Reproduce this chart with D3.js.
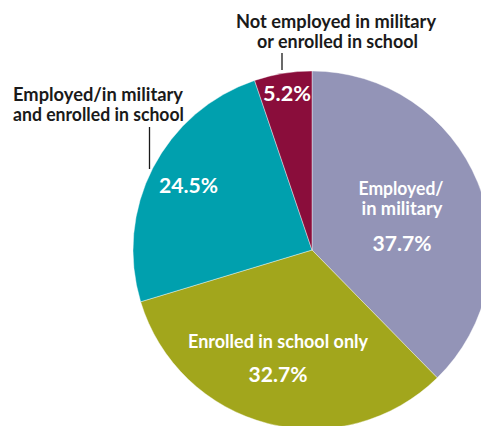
<!DOCTYPE html>
<html>
<head>
<meta charset="utf-8">
<script src="https://cdn.jsdelivr.net/npm/d3@7"></script>
<style>
  html, body { margin: 0; padding: 0; background: #ffffff; }
  svg { display: block; }
  text { font-family: Lato, "Open Sans", sans-serif; font-weight: 700; }
</style>
</head>
<body>
<svg id="chart" width="481" height="426"></svg>
<script>
// ---- data ----
const categories = [
  "Employed/in military",
  "Enrolled in school only",
  "Employed/in military and enrolled in school",
  "Not employed in military or enrolled in school"
];
const values = [37.7, 32.7, 24.5, 5.2];
const valueLabels = ["37.7%", "32.7%", "24.5%", "5.2%"];
const colors = ["#9394b7", "#a2a61c", "#00a0ae", "#8a0d3b"];

// ---- layout ----
const W = 481, H = 426;
const cx = 312, cy = 250, R = 179;

const svg = d3.select("#chart");
const g = svg.append("g").attr("transform", `translate(${cx},${cy})`);

const pie = d3.pie().sort(null).value(d => d)(values);
const arc = d3.arc().innerRadius(0).outerRadius(R);

g.selectAll("path.slice")
  .data(pie)
  .join("path")
  .attr("class", "slice")
  .attr("d", arc)
  .attr("fill", (d, i) => colors[i])
  .attr("stroke", "#ffffff")
  .attr("stroke-width", 0.4);

// helper to draw text lines with target widths
function addText(lines, fill) {
  lines.forEach(l => {
    const t = svg.append("text")
      .attr("x", l.x)
      .attr("y", l.y)
      .attr("text-anchor", "middle")
      .attr("fill", fill)
      .attr("font-size", l.size)
      .text(l.text);
    if (l.w) t.attr("textLength", l.w).attr("lengthAdjust", "spacingAndGlyphs");
  });
}

// in-slice labels (white)
addText([
  { text: "Employed/", x: 401, y: 195, size: 18, w: 85 },
  { text: "in military", x: 402, y: 215, size: 18, w: 81 },
  { text: valueLabels[0], x: 402, y: 251, size: 21, w: 59 },
  { text: "Enrolled in school only", x: 278, y: 348, size: 18, w: 180 },
  { text: valueLabels[1], x: 278, y: 382, size: 21, w: 59 },
  { text: valueLabels[2], x: 188.5, y: 193, size: 21, w: 59 },
  { text: valueLabels[3], x: 287, y: 101, size: 21, w: 48 }
], "#ffffff");

// outside labels (black)
addText([
  { text: "Not employed in military", x: 336, y: 28, size: 18, w: 200 },
  { text: "or enrolled in school", x: 337.5, y: 48, size: 18, w: 161 },
  { text: "Employed/in military", x: 98, y: 101, size: 18, w: 170 },
  { text: "and enrolled in school", x: 98.5, y: 121, size: 18, w: 171 }
], "#1a1a1a");

// leader lines
const leaders = [
  { x: 282, y1: 53, y2: 70 },
  { x: 149.5, y1: 127, y2: 169 }
];
svg.selectAll("line.leader")
  .data(leaders)
  .join("line")
  .attr("class", "leader")
  .attr("x1", d => d.x).attr("x2", d => d.x)
  .attr("y1", d => d.y1).attr("y2", d => d.y2)
  .attr("stroke", "#1a1a1a")
  .attr("stroke-width", 1.3);
</script>
</body>
</html>
